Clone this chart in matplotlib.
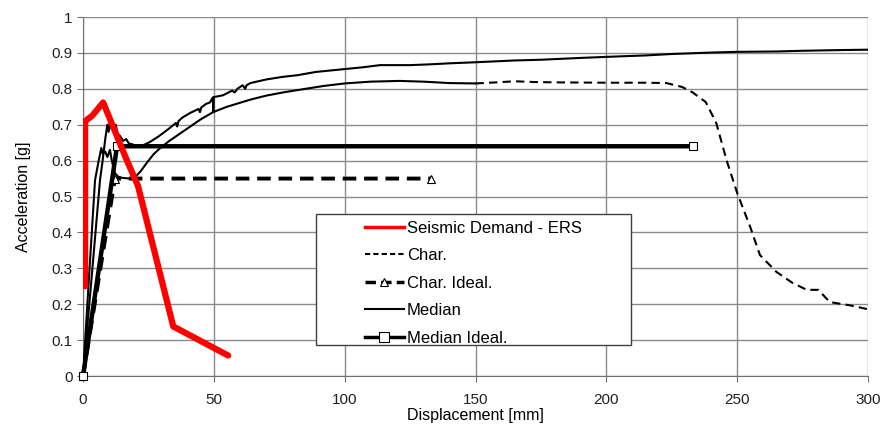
import matplotlib
matplotlib.use("Agg")
import matplotlib.pyplot as plt
import matplotlib.patches as mpatches
from matplotlib.lines import Line2D
from matplotlib.ticker import FuncFormatter, MultipleLocator

plt.rcParams["font.family"] = ["Liberation Sans", "DejaVu Sans"]

# Seismic demand (ERS)
ers_x = [0.8, 0.8, 3.5, 7.7, 16.8, 21.0, 34.5, 55.5]
ers_y = [0.25, 0.71, 0.725, 0.762, 0.60, 0.53, 0.138, 0.057]

# Characteristic capacity curve
char_x = [0, 2.5, 4.6, 6, 7, 7.5, 8.5, 9.3, 10.3, 11, 12.2, 13.5, 15, 18, 20, 22, 24.5,
          27, 29.5, 33, 36, 40, 45, 49.7, 55, 64, 70, 76.5, 85, 92, 100, 110, 121,
          130, 140, 150, 158, 165, 172, 180, 200, 215, 223, 229, 233, 238, 242, 246,
          250, 255, 258.7, 265, 271, 276.6, 281, 285.4, 293, 300]
char_y = [0, 0.30, 0.546, 0.60, 0.635, 0.62, 0.625, 0.61, 0.63, 0.60, 0.565, 0.555,
          0.552, 0.55, 0.555, 0.57, 0.595, 0.618, 0.635, 0.655, 0.67, 0.69, 0.715,
          0.735, 0.75, 0.77, 0.781, 0.79, 0.80, 0.808, 0.815, 0.82, 0.822, 0.82,
          0.816, 0.815, 0.818, 0.821, 0.819, 0.818, 0.817, 0.817, 0.816, 0.805, 0.79,
          0.763, 0.705, 0.60, 0.51, 0.415, 0.337, 0.29, 0.26, 0.24, 0.24, 0.206,
          0.197, 0.186]

# Median capacity curve
med_x = [0, 3, 6.5, 7.5, 8.5, 9.3, 9.8, 10.3, 10.8, 11.3, 11.8, 12.5, 13.2, 14, 15.3,
         16.5, 17.5, 19, 21, 23, 25.6, 29, 33, 35.5, 36, 36.5, 38, 41, 44.2, 44.7,
         45.2, 47, 48.5, 49.6, 49.8, 50.0, 53.5, 57, 58, 59, 60, 61, 62, 62.5, 64,
         70, 76, 82, 89, 100, 107, 113.5, 125, 132, 140, 150, 165, 175, 190, 200,
         215, 225, 240, 250, 265, 275, 290, 300]
med_y = [0, 0.25, 0.546, 0.60, 0.66, 0.70, 0.68, 0.71, 0.69, 0.71, 0.685, 0.70,
         0.675, 0.67, 0.655, 0.66, 0.648, 0.645, 0.64, 0.643, 0.652, 0.668, 0.69,
         0.705, 0.695, 0.71, 0.72, 0.733, 0.744, 0.735, 0.748, 0.758, 0.762, 0.776,
         0.735, 0.777, 0.782, 0.795, 0.79, 0.80, 0.805, 0.81, 0.80, 0.81, 0.816,
         0.826, 0.833, 0.838, 0.847, 0.855, 0.86, 0.866, 0.866, 0.868, 0.871,
         0.874, 0.879, 0.881, 0.886, 0.889, 0.893, 0.897, 0.901, 0.903, 0.904,
         0.906, 0.908, 0.909]

# Idealised curves
char_id_x = [0, 12.2, 133]
char_id_y = [0, 0.55, 0.55]
med_id_x = [0, 13, 233]
med_id_y = [0, 0.64, 0.64]

fig = plt.figure(figsize=(8.84, 4.32), dpi=100, facecolor="white")
ax = fig.add_axes([0.0939, 0.1296, 0.8880, 0.8310])

ax.set_xlim(0, 300)
ax.set_ylim(0, 1)
ax.xaxis.set_major_locator(MultipleLocator(50))
ax.yaxis.set_major_locator(MultipleLocator(0.1))
ax.yaxis.set_major_formatter(FuncFormatter(lambda v, _: f"{v:g}"))
ax.grid(True, color="#8a8a8a", linewidth=1.0, zorder=0)
ax.set_axisbelow(True)
for s in ["top", "right"]:
    ax.spines[s].set_visible(False)
for s in ["left", "bottom"]:
    ax.spines[s].set_color("#707070")
ax.tick_params(direction="out", length=4, color="#707070", labelsize=11, labelcolor="#202020")
ax.tick_params(axis="x", pad=8)

# split the char curve: dense part looks solid, sparse tail dashed
k = next(i for i, v in enumerate(char_x) if v >= 150)
ax.plot(char_x[:k + 1], char_y[:k + 1], color="black", lw=1.5, zorder=3)
ax.plot(char_x[k:], char_y[k:], color="black", lw=1.5, ls=(0, (4, 2.5)), zorder=3)
ax.plot(med_x, med_y, color="black", lw=1.5, zorder=3)
ax.plot(char_id_x, char_id_y, color="black", lw=2.8, ls=(0, (3.5, 2)), marker="^",
        ms=6, mfc="white", mec="black", mew=0.8, zorder=4, clip_on=False)
ax.plot(med_id_x, med_id_y, color="black", lw=3.2, marker="s", ms=6, mfc="white",
        mec="black", mew=0.8, zorder=4, clip_on=False)
ax.plot(ers_x, ers_y, color="red", lw=4.5, solid_capstyle="round", zorder=5)

ax.set_xlabel("Displacement [mm]", fontsize=11.5, labelpad=1)
ax.set_ylabel("Acceleration [g]", fontsize=11.5, labelpad=15)

# legend box (Excel style, wider than its content)
x0, y0, w, h = 0.297, 0.086, 0.401, 0.365
ax.add_patch(mpatches.Rectangle((x0, y0), w, h, transform=ax.transAxes,
                                facecolor="white", edgecolor="#404040", lw=1.0, zorder=6))
handles = [
    Line2D([], [], color="red", lw=2.5),
    Line2D([], [], color="black", lw=1.5, ls=(0, (2.5, 1.5))),
    Line2D([], [], color="black", lw=2.5, ls=(0, (3, 1.5)), marker="^", ms=6,
           mfc="white", mec="black", mew=0.8),
    Line2D([], [], color="black", lw=1.5),
    Line2D([], [], color="black", lw=2.5, marker="s", ms=7, mfc="white",
           mec="black", mew=0.8),
]
labels = ["Seismic Demand - ERS", "Char.", "Char. Ideal.", "Median", "Median Ideal."]
leg = ax.legend(handles, labels, loc="center",
                bbox_to_anchor=(x0 + w / 2, y0 + h / 2 - 0.01), frameon=False, fontsize=12,
                handlelength=2.3, handletextpad=0.2, labelspacing=0.75)
leg.set_zorder(7)

fig.savefig("out.png", dpi=100, facecolor="white")
